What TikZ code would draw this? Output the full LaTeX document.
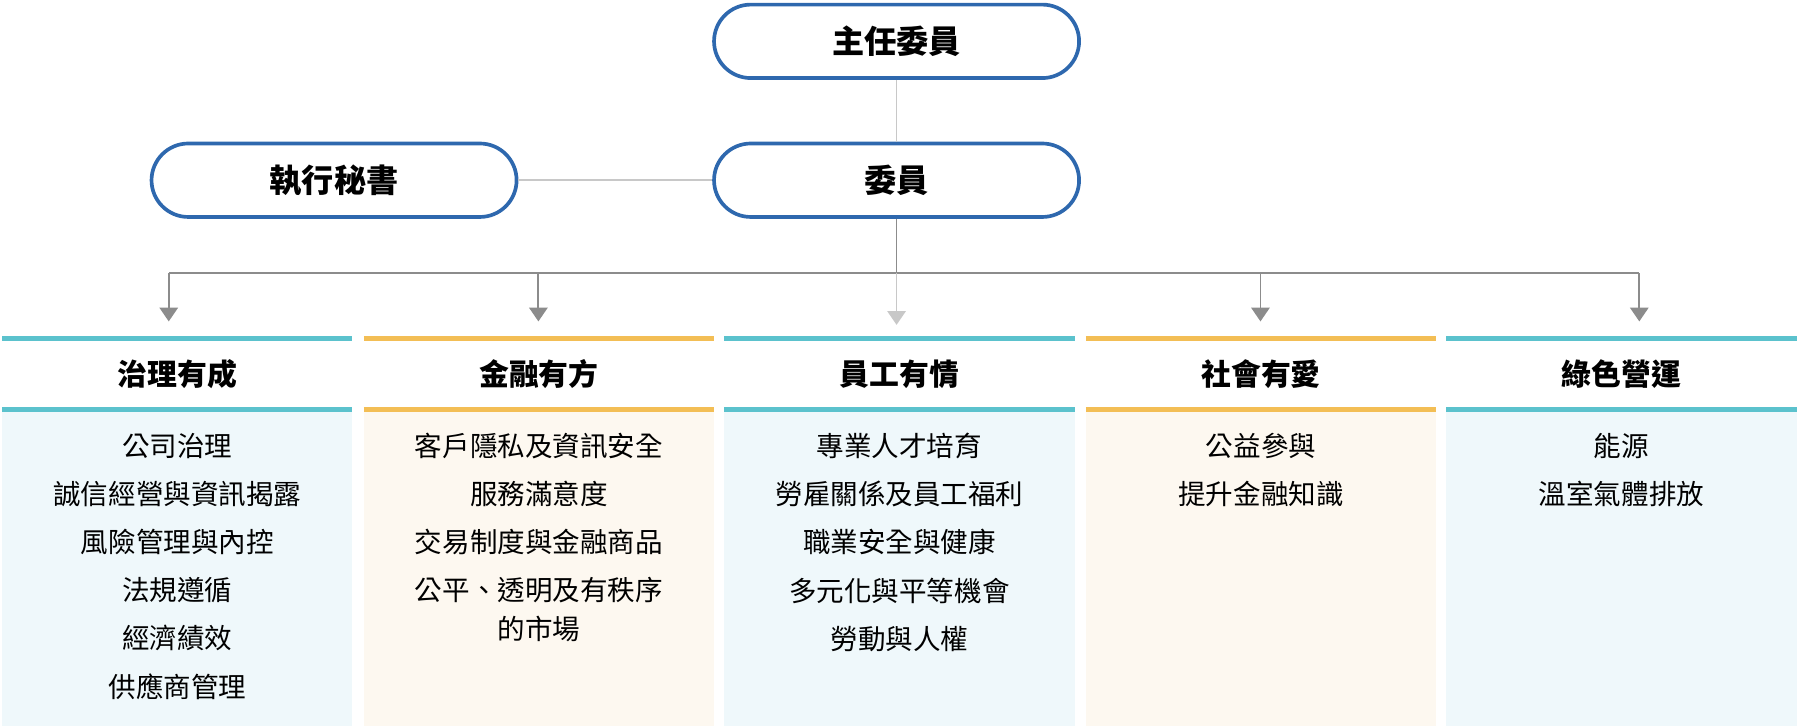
\documentclass[tikz,border=0pt]{standalone}
\usepackage{fontspec}
\setmainfont{Noto Sans CJK TC}
\usetikzlibrary{arrows.meta}
\definecolor{bblue}{HTML}{2E68AE}
\definecolor{teal}{HTML}{5BC2CD}
\definecolor{orng}{HTML}{F3BE55}
\definecolor{fblue}{HTML}{EFF8FB}
\definecolor{fcream}{HTML}{FDF8F0}
\definecolor{lgray}{HTML}{C8C8C8}
\definecolor{agray}{HTML}{8C8C8C}
\begin{document}
\begin{tikzpicture}[x=0.5pt,y=-0.5pt,
 box/.style={draw=bblue,line width=1.6pt,rounded corners=16pt,minimum width=159pt,minimum height=32pt,font=\fontsize{14}{16}\selectfont\bfseries,fill=white},
 title/.style={font=\fontsize{13}{15}\selectfont\bfseries},
 body/.style={font=\fontsize{12}{21}\selectfont,align=center,anchor=north},
 arr/.style={draw=agray,line width=0.8pt,-{Triangle[width=8pt,length=6pt]}}]
\useasboundingbox (0,0) rectangle (1568,632);
\node[box] (top) at (781,36) {主任委員};
\node[box] (mem) at (781,157) {委員};
\node[box] (sec) at (291,157) {執行秘書};
\draw[lgray,line width=0.8pt] (top) -- (mem);
\draw[lgray,line width=0.8pt] (sec) -- (mem);
\coordinate (j) at (781,238);
\draw[agray,line width=0.8pt] (mem.south) -- (j);
\draw[agray,line width=0.8pt] (147,238) -- (1428,238);
\def\col#1#2#3#4#5{%
 \fill[#3] (#1,357) rectangle (#1+305,632);
 \draw[#2,line width=2.2pt] (#1,295) -- (#1+305,295);
 \draw[#2,line width=2.2pt] (#1,357) -- (#1+305,357);
 \node[title] at (#1+152.5,326) {#4};
 \node[body] at (#1+152.5,370) {#5};}
\col{2}{teal}{fblue}{治理有成}{公司治理\\誠信經營與資訊揭露\\風險管理與內控\\法規遵循\\經濟績效\\供應商管理}
\col{317}{orng}{fcream}{金融有方}{客戶隱私及資訊安全\\服務滿意度\\交易制度與金融商品\\公平、透明及有秩序\\[-4pt]的市場}
\col{631}{teal}{fblue}{員工有情}{專業人才培育\\勞雇關係及員工福利\\職業安全與健康\\多元化與平等機會\\勞動與人權}
\col{946}{orng}{fcream}{社會有愛}{公益參與\\提升金融知識}
\col{1260}{teal}{fblue}{綠色營運}{能源\\溫室氣體排放}
\coordinate (a1) at (147,280);\coordinate (a2) at (469,280);
\coordinate (a4) at (1098,280);\coordinate (a5) at (1428,280);
\coordinate (b1) at (147,238);\coordinate (b2) at (469,238);
\coordinate (b4) at (1098,238);\coordinate (b5) at (1428,238);
\draw[arr] (b1) -- (a1);\draw[arr] (b2) -- (a2);
\draw[arr] (b4) -- (a4);\draw[arr] (b5) -- (a5);
\draw[arr,draw=lgray] (j) -- (781,283);
\end{tikzpicture}
\end{document}
